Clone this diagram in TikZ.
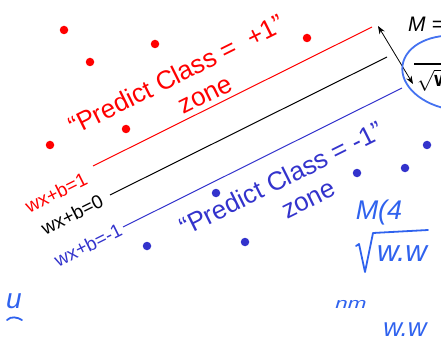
\documentclass[tikz,border=0pt]{standalone}
\usepackage{fontspec}
\setmainfont{Liberation Sans}
\usetikzlibrary{arrows.meta}
\definecolor{pred}{HTML}{FF0000}
\definecolor{pblue}{HTML}{3333CC}
\definecolor{hand}{HTML}{2F62EE}
\newcommand{\fsz}[2]{\fontsize{#1}{#2}\selectfont}
\tikzset{
  rdot/.style={circle,fill=pred,inner sep=0pt,minimum size=8.5pt},
  bdot/.style={circle,fill=pblue,inner sep=0pt,minimum size=8.5pt},
  zonetext/.style={rotate=26.5,inner sep=0pt,align=center,font=\fsz{26}{30}},
  linelabel/.style={rotate=26.5,inner sep=0pt,font=\fsz{19}{19}},
  sepline/.style={line width=1pt},
  handtext/.style={text=hand,inner sep=0pt},
  handstroke/.style={draw=hand,line width=1.8pt,line cap=round,line join=round}
}
\begin{document}
\begin{tikzpicture}[x=1pt,y=-1pt]
\useasboundingbox (0,0) rectangle (441,339);
\clip (0,0) rectangle (441,339);
% red points
\node[rdot] (r1) at (64,30) {};
\node[rdot] (r2) at (90,62) {};
\node[rdot] (r3) at (155,44) {};
\node[rdot] (r4) at (307,38) {};
\node[rdot] (r5) at (126,129) {};
\node[rdot] (r6) at (50,145) {};
% blue points
\node[bdot] (b1) at (427,145) {};
\node[bdot] (b2) at (405,168) {};
\node[bdot] (b3) at (357,173) {};
\node[bdot] (b4) at (216,193) {};
\node[bdot] (b5) at (147,246) {};
\node[bdot] (b6) at (245,242) {};
% lines
\coordinate (rs) at (93,166); \coordinate (re) at (372,27);
\coordinate (ks) at (110,195); \coordinate (ke) at (387,57);
\coordinate (bs) at (123,227); \coordinate (be) at (402,88);
\draw[sepline,pred] (rs) -- (re);
\draw[sepline,black] (ks) -- (ke);
\draw[sepline,pblue] (bs) -- (be);
% line labels
\node[linelabel,text=pred] (lr) at (56,193) {wx+b=1};
\node[linelabel,text=black] (lk) at (72,215) {wx+b=0};
\node[linelabel,text=pblue] (lb) at (88,245) {wx+b=-1};
% zone texts
\node[zonetext,text=pred] (zr) at (183,88) {“Predict Class =\ \ +1”\\\hspace*{34pt}zone};
\node[zonetext,text=pblue] (zb) at (288,192) {“Predict Class = -1”\\\hspace*{30pt}zone};
% margin formula
\node[anchor=base west,inner sep=0pt,font=\fsz{21}{21}\itshape] (M) at (408,32) {M =};
\coordinate (fb1) at (414,64); \coordinate (fb2) at (470,64);
\draw[line width=1.1pt] (fb1) -- (fb2);
\node[anchor=base west,inner sep=0pt,font=\fsz{21}{21}] (den) at (417,87) {$\sqrt{\mathbf{w}\cdot\mathbf{w}}$};
\coordinate (a1) at (378,26); \coordinate (a2) at (413,84);
\draw[line width=0.8pt,{Stealth[length=8pt,width=6pt]}-{Stealth[length=8pt,width=6pt]}] (a1) -- (a2);
\draw[draw=hand!90!white,line width=1.8pt,rotate around={-8:(457,73)}] (457,73) ellipse (55pt and 37pt);
% handwriting
\node[handtext,font=\fsz{27}{27}\itshape] (h1) at (379,213) {M(4};
\coordinate (s1) at (356,246); \coordinate (s2) at (359,244); \coordinate (s3) at (365,272);
\coordinate (s4) at (373,233); \coordinate (s5) at (428,230);
\draw[handstroke] (s1) -- (s2) -- (s3) -- (s4) -- (s5);
\node[handtext,font=\fsz{30}{30}\itshape] (h2) at (402,254) {w.w};
\node[handtext,font=\fsz{15}{15}\itshape,xscale=1.5] (h3) at (351,304) {nm};
\node[handtext,font=\fsz{26}{26}\itshape] (h4) at (405,330) {w.w};
\node[handtext,font=\fsz{28}{28}\itshape] (h5) at (14,301) {u};
\coordinate (u1) at (7,320); \coordinate (u2) at (22,320);
\draw[handstroke] (u1) .. controls (11,316) and (17,317) .. (u2);
\end{tikzpicture}
\end{document}
